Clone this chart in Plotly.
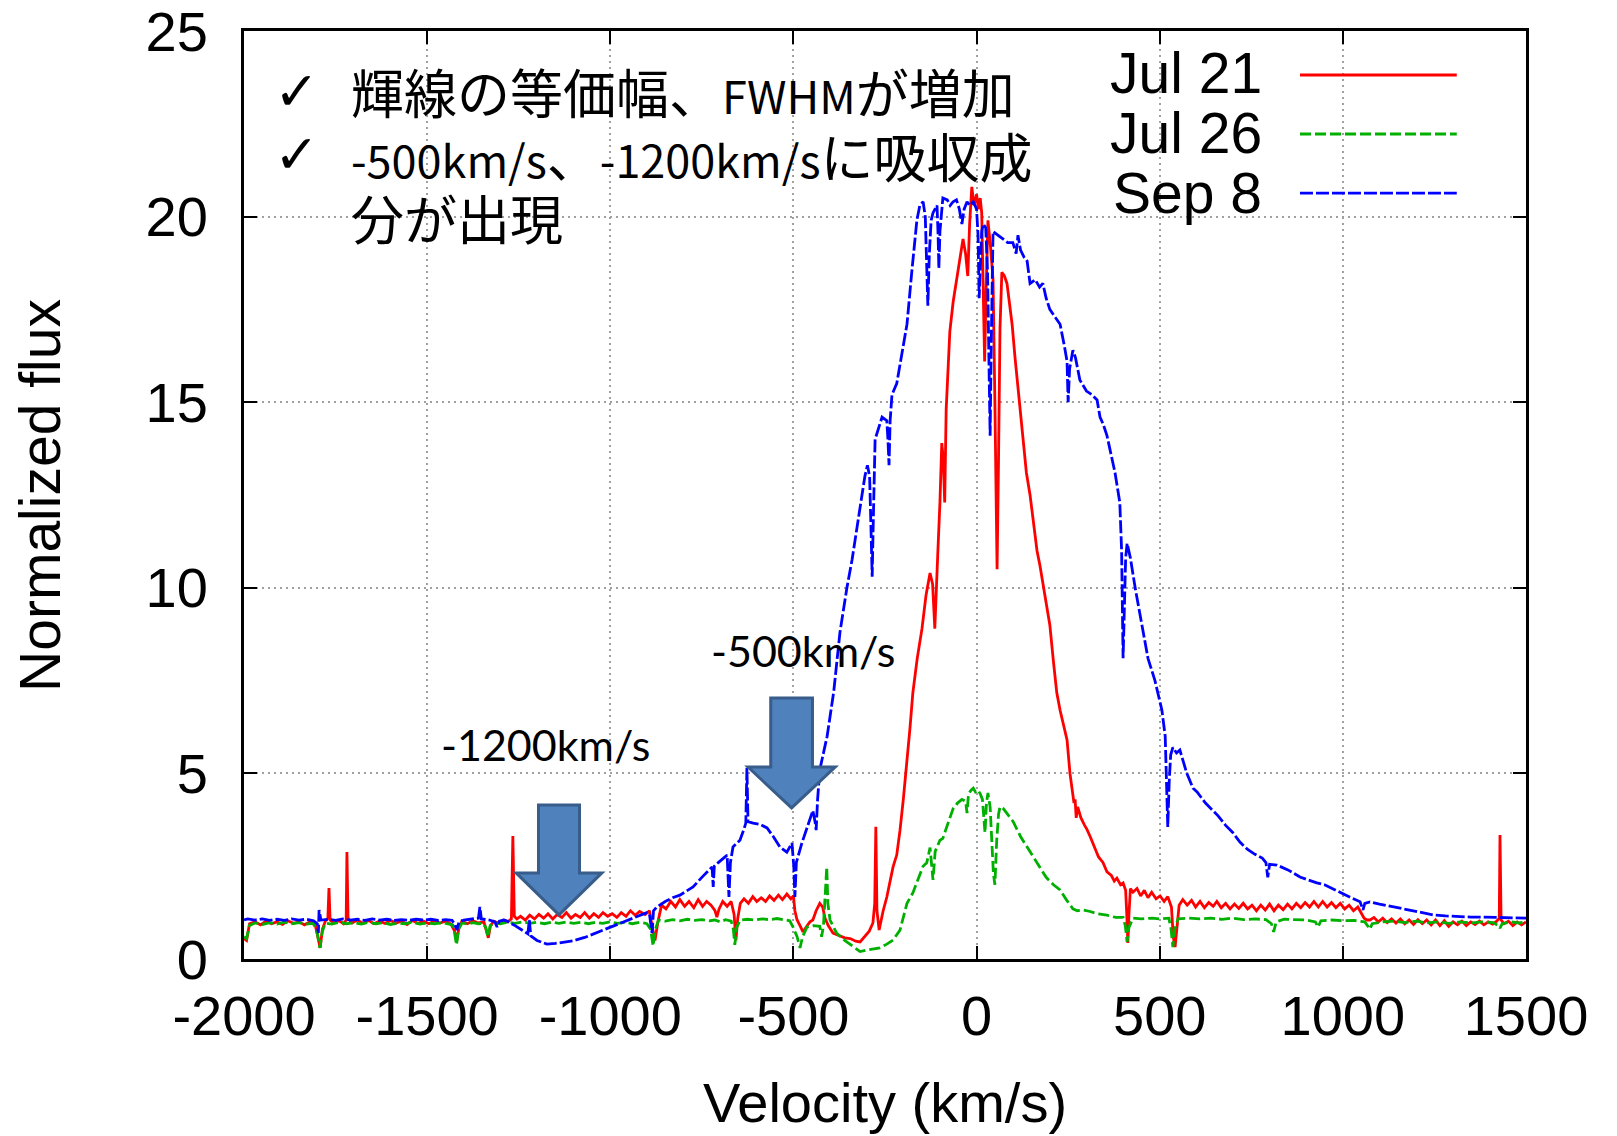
import plotly.graph_objects as go

# ---------------- data ----------------
jul21_points = [
    (-2000, 0.55), (-1993, 0.5), (-1985, 0.95), (-1970, 1.0), (-1955, 0.92), (-1940, 1.02), (-1925, 0.95),
    (-1910, 1.0), (-1895, 0.93), (-1880, 1.03), (-1865, 0.96), (-1850, 1.0), (-1835, 0.92), (-1820, 1.0),
    (-1805, 0.9), (-1797, 0.55), (-1792, 0.3), (-1786, 0.8), (-1778, 1.02), (-1771, 1.1), (-1768, 1.91),
    (-1765, 1.05), (-1755, 0.97), (-1740, 1.03), (-1728, 0.95), (-1721, 1.05), (-1719, 2.88), (-1716, 1.1),
    (-1705, 0.97), (-1690, 1.05), (-1675, 0.96), (-1660, 1.04), (-1645, 0.95), (-1630, 1.02), (-1615, 0.96),
    (-1600, 1.04), (-1585, 0.97), (-1570, 1.02), (-1555, 0.93), (-1540, 1.04), (-1525, 0.96), (-1510, 1.02),
    (-1495, 0.95), (-1480, 1.03), (-1465, 0.97), (-1450, 1.02), (-1435, 0.94), (-1425, 0.75), (-1419, 0.5),
    (-1413, 0.85), (-1405, 1.02), (-1390, 0.95), (-1375, 1.03), (-1360, 0.97), (-1345, 1.0), (-1338, 0.75),
    (-1333, 0.57), (-1327, 0.9), (-1318, 1.02), (-1305, 0.96), (-1292, 1.05), (-1280, 1.0), (-1270, 1.08),
    (-1266, 3.31), (-1262, 1.15), (-1255, 1.08), (-1245, 1.15), (-1232, 1.05), (-1220, 1.18), (-1207, 1.08),
    (-1195, 1.2), (-1182, 1.1), (-1170, 1.22), (-1157, 1.08), (-1145, 1.2), (-1132, 1.12), (-1120, 1.25),
    (-1107, 1.1), (-1095, 1.2), (-1082, 1.12), (-1070, 1.25), (-1057, 1.1), (-1045, 1.22), (-1032, 1.12),
    (-1020, 1.25), (-1007, 1.15), (-995, 1.22), (-982, 1.12), (-970, 1.25), (-957, 1.15), (-945, 1.3),
    (-932, 1.18), (-920, 1.28), (-905, 1.2), (-893, 1.3), (-886, 0.9), (-878, 0.5), (-870, 1.0), (-860, 1.45),
    (-848, 1.35), (-835, 1.55), (-822, 1.4), (-810, 1.6), (-797, 1.42), (-785, 1.55), (-772, 1.38), (-760, 1.6),
    (-748, 1.42), (-737, 1.55), (-725, 1.45), (-714, 1.3), (-709, 1.13), (-703, 1.35), (-693, 1.55), (-681, 1.42),
    (-670, 1.55), (-662, 1.2), (-657, 0.5), (-652, 1.1), (-645, 1.5), (-635, 1.62), (-623, 1.5), (-611, 1.68),
    (-600, 1.55), (-588, 1.65), (-576, 1.55), (-565, 1.7), (-553, 1.58), (-541, 1.72), (-530, 1.6), (-518, 1.75),
    (-507, 1.62), (-500, 1.7), (-496, 1.3), (-490, 1.05), (-482, 0.9), (-474, 0.73), (-466, 0.85), (-455, 1.0),
    (-447, 1.05), (-438, 1.3), (-428, 1.5), (-420, 1.4), (-414, 1.1), (-405, 0.9), (-392, 0.7), (-375, 0.62),
    (-360, 0.57), (-345, 0.55), (-330, 0.48), (-318, 0.46), (-305, 0.6), (-293, 0.75), (-283, 0.97), (-278, 1.5),
    (-275, 3.56), (-272, 1.3), (-266, 0.78), (-255, 1.3), (-245, 1.67), (-236, 2.1), (-228, 2.48), (-218, 2.8),
    (-209, 3.47), (-200, 4.3), (-190, 5.3), (-182, 6.2), (-174, 7.17), (-162, 8.1), (-149, 8.9), (-138, 9.8),
    (-127, 10.4), (-120, 10.1), (-114, 8.9), (-110, 10.2), (-106, 10.9), (-100, 12.3), (-95, 13.9), (-91, 13.5),
    (-87, 12.3), (-83, 14.8), (-78, 16.0), (-73, 16.9), (-64, 17.7), (-55, 18.3), (-46, 18.9), (-37, 19.4),
    (-30, 19.0), (-24, 18.4), (-19, 19.8), (-13, 20.8), (-7, 20.3), (0, 20.6), (5, 20.2), (10, 20.5), (14, 20.1),
    (18, 18.5), (22, 16.1), (26, 18.0), (31, 19.9), (38, 19.2), (45, 18.3), (50, 15.0), (53, 12.0), (56, 10.5),
    (60, 13.5), (64, 17.0), (69, 18.5), (76, 18.4), (83, 18.2), (90, 17.6), (97, 17.1), (105, 16.2), (113, 15.4),
    (120, 14.6), (127, 13.8), (136, 13.1), (146, 12.5), (155, 11.8), (165, 11.0), (173, 10.6), (182, 10.1),
    (192, 9.5), (200, 9.0), (210, 8.0), (219, 7.17), (228, 6.7), (237, 6.3), (247, 5.9), (255, 5.0), (262, 4.4),
    (266, 4.2), (269, 4.3), (272, 3.8), (276, 4.1), (285, 3.8), (295, 3.6), (301, 3.5), (310, 3.3), (322, 3.0),
    (333, 2.75), (345, 2.6), (356, 2.35), (368, 2.25), (376, 2.1), (383, 2.18), (393, 2.0), (400, 2.05),
    (407, 1.85), (411, 1.0), (413, 0.43), (416, 1.2), (420, 1.9), (427, 1.8), (438, 1.9), (448, 1.7), (458, 1.85),
    (468, 1.65), (478, 1.8), (490, 1.62), (501, 1.7), (512, 1.55), (522, 1.68), (532, 1.4), (537, 0.6),
    (542, 0.32), (547, 0.9), (553, 1.45), (563, 1.6), (575, 1.45), (587, 1.58), (598, 1.4), (610, 1.55),
    (622, 1.38), (634, 1.52), (646, 1.42), (656, 1.55), (668, 1.38), (680, 1.5), (692, 1.35), (704, 1.48),
    (716, 1.36), (728, 1.5), (740, 1.35), (752, 1.45), (764, 1.3), (776, 1.45), (788, 1.32), (800, 1.48),
    (812, 1.3), (824, 1.45), (837, 1.33), (849, 1.48), (861, 1.35), (873, 1.5), (885, 1.38), (897, 1.52),
    (909, 1.4), (921, 1.55), (933, 1.4), (945, 1.55), (957, 1.4), (969, 1.52), (981, 1.38), (993, 1.5),
    (1005, 1.35), (1017, 1.45), (1029, 1.3), (1041, 1.4), (1050, 1.25), (1058, 1.1), (1066, 1.05), (1074, 1.05),
    (1085, 1.12), (1097, 1.0), (1109, 1.1), (1121, 0.98), (1133, 1.08), (1145, 0.97), (1157, 1.08), (1169, 0.95),
    (1181, 1.05), (1193, 0.93), (1205, 1.06), (1217, 0.95), (1229, 1.05), (1241, 0.92), (1253, 1.05), (1265, 0.9),
    (1277, 1.03), (1289, 0.88), (1301, 1.0), (1313, 0.92), (1325, 1.02), (1337, 0.9), (1349, 1.0), (1361, 0.93),
    (1373, 1.02), (1385, 0.92), (1397, 1.0), (1409, 0.94), (1420, 1.02), (1427, 1.1), (1429, 3.34), (1432, 1.05),
    (1440, 0.95), (1452, 1.02), (1464, 0.9), (1476, 1.0), (1488, 0.92), (1500, 1.0),
]

jul26_points = [
    (-2000, 0.6), (-1993, 0.55), (-1985, 0.9), (-1970, 0.97), (-1950, 0.93), (-1930, 0.98), (-1910, 0.94),
    (-1890, 0.99), (-1870, 0.95), (-1850, 0.98), (-1830, 0.94), (-1810, 0.96), (-1800, 0.7), (-1793, 0.3),
    (-1786, 0.75), (-1778, 0.97), (-1760, 0.94), (-1740, 0.99), (-1720, 0.95), (-1700, 0.98), (-1680, 0.94),
    (-1660, 0.99), (-1640, 0.95), (-1620, 0.98), (-1600, 0.93), (-1580, 0.97), (-1560, 0.95), (-1540, 0.99),
    (-1520, 0.94), (-1500, 0.97), (-1480, 0.95), (-1460, 0.98), (-1440, 0.94), (-1430, 0.92), (-1425, 0.7),
    (-1420, 0.38), (-1414, 0.8), (-1405, 0.97), (-1390, 0.94), (-1375, 0.98), (-1360, 0.95), (-1348, 0.96),
    (-1340, 0.85), (-1334, 0.6), (-1328, 0.9), (-1315, 0.97), (-1300, 0.95), (-1280, 0.99), (-1260, 0.96),
    (-1240, 1.0), (-1220, 0.96), (-1200, 0.99), (-1180, 0.95), (-1160, 0.99), (-1140, 0.96), (-1120, 1.0),
    (-1100, 0.96), (-1080, 0.99), (-1060, 0.95), (-1040, 0.99), (-1020, 0.96), (-1000, 1.0), (-980, 0.96),
    (-960, 0.99), (-940, 0.95), (-920, 0.99), (-900, 0.95), (-890, 0.8), (-883, 0.35), (-877, 0.8), (-868, 1.05),
    (-850, 1.02), (-830, 1.06), (-810, 1.03), (-790, 1.07), (-770, 1.04), (-750, 1.06), (-730, 1.03),
    (-715, 1.05), (-700, 1.0), (-685, 1.06), (-670, 1.02), (-664, 0.8), (-660, 0.38), (-655, 0.85), (-645, 1.05),
    (-625, 1.07), (-605, 1.05), (-585, 1.08), (-565, 1.06), (-545, 1.09), (-525, 1.05), (-510, 1.03),
    (-501, 0.86), (-490, 0.6), (-482, 0.3), (-475, 0.6), (-463, 0.86), (-445, 0.9), (-428, 0.88), (-423, 0.6),
    (-418, 0.9), (-411, 2.0), (-409, 2.48), (-406, 1.5), (-400, 1.05), (-390, 0.85), (-382, 0.7), (-360, 0.5),
    (-337, 0.33), (-318, 0.2), (-295, 0.25), (-264, 0.3), (-245, 0.4), (-228, 0.51), (-209, 0.78), (-190, 1.5),
    (-174, 1.78), (-160, 2.15), (-146, 2.5), (-136, 2.59), (-127, 3.0), (-119, 2.13), (-113, 2.9), (-100, 3.2),
    (-92, 3.25), (-80, 3.6), (-64, 4.05), (-52, 4.2), (-40, 4.3), (-30, 4.25), (-26, 3.93), (-22, 4.45),
    (-15, 4.55), (-9, 4.6), (-3, 4.5), (4, 4.55), (10, 4.45), (16, 4.3), (20, 3.6), (23, 3.4), (27, 4.2),
    (31, 4.47), (37, 4.1), (42, 3.0), (46, 2.3), (50, 2.0), (55, 3.2), (60, 3.9), (64, 4.1), (73, 4.05),
    (83, 3.93), (100, 3.7), (120, 3.3), (138, 3.02), (155, 2.75), (173, 2.48), (190, 2.2), (210, 2.0),
    (228, 1.86), (245, 1.6), (263, 1.35), (275, 1.3), (290, 1.32), (310, 1.28), (330, 1.22), (356, 1.18),
    (380, 1.12), (400, 1.12), (406, 0.9), (411, 0.46), (416, 0.85), (427, 1.1), (450, 1.08), (480, 1.1),
    (501, 1.08), (525, 1.1), (531, 0.8), (536, 0.32), (541, 0.8), (550, 1.08), (580, 1.1), (610, 1.08),
    (640, 1.1), (670, 1.07), (700, 1.1), (730, 1.06), (760, 1.08), (790, 1.06), (805, 0.95), (811, 0.73),
    (818, 1.0), (840, 1.07), (870, 1.05), (900, 1.05), (925, 1.0), (932, 0.86), (940, 1.03), (970, 1.05),
    (1000, 1.03), (1030, 1.04), (1060, 1.0), (1070, 0.85), (1074, 0.8), (1080, 0.95), (1110, 1.0), (1140, 1.02),
    (1170, 0.98), (1202, 1.02), (1230, 0.97), (1260, 1.0), (1290, 0.96), (1320, 1.0), (1350, 0.97), (1380, 1.0),
    (1410, 0.98), (1425, 0.9), (1429, 0.83), (1435, 0.95), (1460, 1.0), (1480, 0.97), (1500, 1.0),
]

sep8_points = [
    (-2000, 1.05), (-1990, 1.08), (-1970, 1.05), (-1950, 1.08), (-1930, 1.04), (-1910, 1.07), (-1890, 1.04),
    (-1870, 1.08), (-1850, 1.05), (-1830, 1.07), (-1810, 1.03), (-1800, 0.95), (-1797, 0.7), (-1795, 1.32),
    (-1790, 1.05), (-1770, 1.07), (-1750, 1.04), (-1730, 1.08), (-1710, 1.05), (-1690, 1.07), (-1670, 1.04),
    (-1650, 1.08), (-1630, 1.05), (-1610, 1.07), (-1590, 1.04), (-1570, 1.06), (-1550, 1.04), (-1530, 1.07),
    (-1510, 1.05), (-1490, 1.07), (-1470, 1.04), (-1450, 1.06), (-1432, 1.04), (-1425, 0.95), (-1419, 0.78),
    (-1413, 1.0), (-1400, 1.05), (-1380, 1.07), (-1360, 1.1), (-1356, 1.4), (-1352, 1.08), (-1330, 1.05),
    (-1315, 1.0), (-1309, 0.86), (-1303, 1.02), (-1290, 1.05), (-1282, 1.02), (-1260, 0.9), (-1240, 0.78),
    (-1225, 0.68), (-1221, 1.05), (-1217, 0.62), (-1200, 0.5), (-1185, 0.44), (-1173, 0.40), (-1150, 0.42),
    (-1130, 0.45), (-1102, 0.49), (-1070, 0.58), (-1040, 0.7), (-1009, 0.83), (-980, 0.95), (-950, 1.06),
    (-919, 1.18), (-900, 1.25), (-893, 1.2), (-889, 0.8), (-886, 0.7), (-882, 1.3), (-873, 1.4), (-850, 1.55),
    (-830, 1.65), (-810, 1.72), (-790, 1.85), (-774, 1.94), (-750, 2.2), (-730, 2.4), (-722, 2.48), (-719, 1.94),
    (-716, 2.5), (-706, 2.59), (-690, 2.72), (-681, 2.8), (-676, 1.67), (-672, 2.6), (-665, 3.02), (-646, 3.2),
    (-635, 3.5), (-630, 3.66), (-627, 5.15), (-624, 3.7), (-610, 3.66), (-590, 3.62), (-572, 3.53), (-555, 3.3),
    (-537, 3.02), (-518, 2.88), (-504, 3.12), (-499, 2.5), (-496, 1.67), (-492, 2.6), (-477, 3.12), (-460, 3.6),
    (-447, 4.0), (-441, 3.7), (-438, 3.47), (-434, 4.3), (-428, 5.1), (-408, 6.0), (-390, 7.2), (-373, 8.8),
    (-354, 10.0), (-340, 10.75), (-320, 12.0), (-305, 13.0), (-298, 13.3), (-292, 13.0), (-288, 11.5),
    (-285, 10.3), (-282, 11.8), (-277, 14.0), (-258, 14.6), (-245, 14.5), (-242, 14.0), (-239, 13.3),
    (-236, 14.5), (-231, 15.2), (-218, 15.5), (-205, 16.3), (-190, 17.1), (-177, 18.5), (-163, 19.9),
    (-155, 20.3), (-146, 20.4), (-140, 20.0), (-136, 18.8), (-133, 17.6), (-129, 19.0), (-124, 19.9),
    (-119, 20.1), (-108, 20.3), (-105, 19.5), (-103, 18.6), (-100, 19.6), (-92, 20.5), (-80, 20.45),
    (-72, 20.3), (-64, 20.4), (-55, 20.45), (-47, 20.2), (-40, 19.8), (-34, 20.2), (-26, 20.4), (-18, 20.3),
    (-9, 20.4), (0, 20.2), (4, 19.5), (7, 17.8), (10, 18.5), (14, 19.6), (18, 19.8), (25, 19.7), (30, 18.5),
    (34, 16.0), (37, 14.1), (40, 16.5), (43, 19.0), (45, 19.6), (58, 19.5), (72, 19.4), (85, 19.3), (99, 19.3),
    (108, 19.0), (113, 19.5), (120, 19.1), (130, 18.9), (138, 18.8), (146, 18.2), (160, 18.3), (172, 18.1),
    (181, 18.2), (190, 17.8), (200, 17.5), (214, 17.3), (228, 17.1), (240, 16.5), (247, 16.1), (250, 15.0),
    (254, 15.9), (263, 16.4), (270, 16.2), (282, 15.6), (300, 15.3), (315, 15.2), (329, 15.06), (337, 14.6),
    (346, 14.4), (356, 14.1), (367, 13.6), (378, 13.1), (391, 12.3), (396, 11.0), (400, 8.1), (404, 9.5),
    (407, 10.8), (411, 11.2), (420, 10.8), (433, 10.0), (446, 9.3), (457, 8.7), (468, 8.1), (487, 7.5),
    (506, 6.7), (515, 6.0), (519, 4.5), (522, 3.56), (526, 4.8), (530, 5.5), (536, 5.7), (546, 5.55),
    (555, 5.63), (564, 5.3), (574, 5.0), (591, 4.6), (602, 4.5), (625, 4.2), (645, 4.0), (660, 3.85),
    (680, 3.6), (700, 3.4), (719, 3.15), (740, 2.95), (760, 2.82), (780, 2.72), (790, 2.6), (795, 2.2),
    (800, 2.55), (820, 2.53), (850, 2.4), (883, 2.21), (900, 2.15), (929, 2.05), (950, 2.0), (970, 1.9),
    (992, 1.8), (1020, 1.66), (1047, 1.54), (1052, 1.4), (1055, 1.32), (1060, 1.5), (1074, 1.54), (1100, 1.48),
    (1130, 1.42), (1156, 1.37), (1190, 1.3), (1220, 1.23), (1246, 1.19), (1280, 1.16), (1320, 1.14),
    (1350, 1.13), (1382, 1.13), (1420, 1.12), (1460, 1.1), (1500, 1.1),
]

series_names = ["Jul 21", "Jul 26", "Sep 8"]
x_ticks = [-2000, -1500, -1000, -500, 0, 500, 1000, 1500]
y_ticks = [0, 5, 10, 15, 20, 25]

# note lines, split into (text, is_latin) runs
note_lines = [
    [("輝線の等価幅、", False), ("FWHM", True), ("が増加", False)],
    [("-500km/s", True), ("、", False), ("-1200km/s", True), ("に吸収成", False)],
    [("分が出現", False)],
]
arrow_labels = ["-1200km/s", "-500km/s"]
arrow_label_pos = [(-1178, 5.77), (-474, 8.32)]
# arrows: centre velocity, top of shaft, base of head, tip (flux units)
arrows = [
    dict(v=-1140, top=4.15, base=2.32, tip=1.19, shaft=56, head=117),
    dict(v=-505, top=7.03, base=5.17, tip=4.07, shaft=57, head=119),
]

# ---------------- styling ----------------
colors = ["#ff0000", "#00b000", "#0000ff"]
dashes = ["solid", "11px,4px", "13px,3px"]
FONT = "Liberation Sans, Arial, Helvetica, sans-serif"
JFONT = "Noto Sans CJK JP"

fig = go.Figure()
for pts, name, col, dash in zip([jul21_points, jul26_points, sep8_points], series_names, colors, dashes):
    v, f = zip(*pts)
    fig.add_trace(go.Scatter(x=list(v), y=list(f), mode="lines", name=name,
                             line=dict(color=col, width=2.8, dash=dash), showlegend=False,
                             hoverinfo="skip"))

shapes = []
# white legend box hiding the grid behind the key
shapes.append(dict(type="rect", xref="paper", yref="paper", x0=0.631, x1=0.997, y0=0.795, y1=0.985,
                   fillcolor="white", line=dict(width=0), layer="between"))
# key samples
key_y = [0.9526, 0.889, 0.8254]
for ky, col, dash in zip(key_y, colors, dashes):
    shapes.append(dict(type="line", xref="paper", yref="paper", x0=0.8237, x1=0.946, y0=ky, y1=ky,
                       line=dict(color=col, width=2.8, dash=dash)))
# block arrows
for a in arrows:
    v = a["v"]
    path = (f"M {v - a['shaft']},{a['top']} L {v + a['shaft']},{a['top']} L {v + a['shaft']},{a['base']} "
            f"L {v + a['head']},{a['base']} L {v},{a['tip']} L {v - a['head']},{a['base']} "
            f"L {v - a['shaft']},{a['base']} Z")
    shapes.append(dict(type="path", xref="x", yref="y", path=path, fillcolor="#4f81bd",
                       line=dict(color="#385d8a", width=3), layer="above"))

annotations = []
# key text
for ky, name in zip([0.9547, 0.890, 0.8254], series_names):
    annotations.append(dict(xref="paper", yref="paper", x=0.796, y=ky, text=name, showarrow=False,
                            xanchor="right", yanchor="middle", font=dict(family=FONT, size=57, color="black")))
# notes
note_y = [0.9353, 0.8664, 0.7996]
for i, (ny, runs) in enumerate(zip(note_y, note_lines)):
    txt = "".join(f'<span style="font-size:45px">{t}</span>' if lat else t for t, lat in runs)
    annotations.append(dict(xref="paper", yref="paper", x=0.0819, y=ny, text=txt, showarrow=False,
                            xanchor="left", yanchor="middle", font=dict(family=JFONT, size=53, color="black")))
    if i < 2:
        annotations.append(dict(xref="paper", yref="paper", x=0.0406, y=ny, text="✓", showarrow=False,
                                xanchor="center", yanchor="middle",
                                font=dict(family="DejaVu Sans", size=54, color="black")))
for (lx, ly), txt in zip(arrow_label_pos, arrow_labels):
    annotations.append(dict(xref="x", yref="y", x=lx, y=ly, text=txt, showarrow=False,
                            xanchor="center", yanchor="middle", font=dict(family="Lato", size=43, color="black")))
# axis titles
annotations.append(dict(xref="paper", yref="paper", x=-0.1592, y=0.5, text="Normalized flux", showarrow=False,
                        textangle=-90, xanchor="center", yanchor="middle",
                        font=dict(family=FONT, size=57, color="black")))
annotations.append(dict(xref="paper", yref="paper", x=0.5, y=-0.1907, text="Velocity (km/s)", showarrow=False,
                        xanchor="center", yanchor="bottom", font=dict(family=FONT, size=56, color="black")))

axis_common = dict(showline=True, linecolor="black", linewidth=3, mirror="allticks", ticks="inside",
                   ticklen=13, tickwidth=2, tickcolor="black", showgrid=True, gridcolor="#a0a0a0",
                   gridwidth=1.5, griddash="2px,4px", zeroline=False, automargin=False,
                   ticklabeloverflow="allow",
                   tickfont=dict(family=FONT, size=56, color="black"))

# the page body adds an 8px margin, so the figure is sized to fill the rest of the window
fig.update_layout(
    width=1609, height=1128,
    margin=dict(l=236, r=91, t=23, b=177),
    paper_bgcolor="white", plot_bgcolor="white",
    shapes=shapes, annotations=annotations,
    xaxis=dict(range=[-2000, 1500], tickvals=x_ticks, ticktext=[str(t) for t in x_ticks],
               ticklabelstandoff=6, **axis_common),
    yaxis=dict(range=[0, 25], tickvals=y_ticks, ticktext=[str(t) for t in y_ticks],
               ticklabelstandoff=22, **axis_common),
)

fig.write_html("out.html")
